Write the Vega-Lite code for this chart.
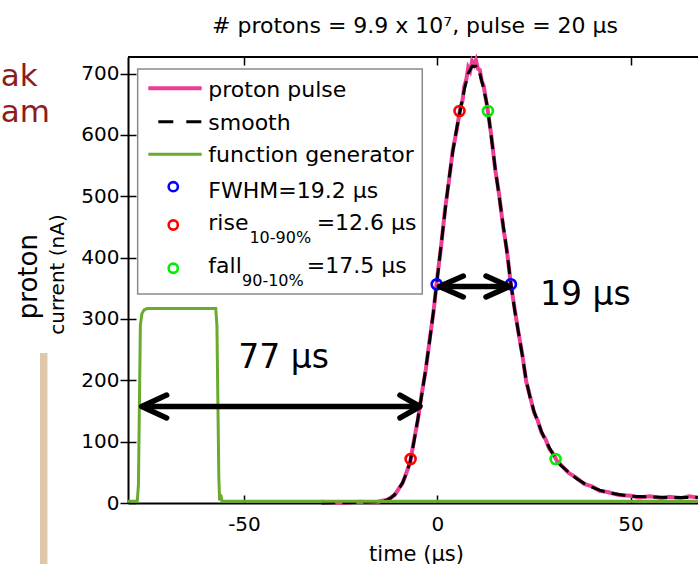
{
  "$schema": "https://vega.github.io/schema/vega-lite/v6.json",
  "width": 570,
  "height": 446,
  "autosize": {"type": "none"},
  "padding": {"left": 128, "top": 57, "right": 0, "bottom": 61},
  "background": "white",
  "config": {"view": {"stroke": null}, "font": "DejaVu Sans", "text": {"font": "DejaVu Sans"}},
  "title": {"text": "# protons = 9.9 x 10⁷, pulse = 20  µs", "font": "DejaVu Sans", "fontSize": 22, "fontWeight": "normal", "color": "black", "frame": "group", "anchor": "middle", "offset": 14, "dx": 2},
  "datasets": {
    "border": [{"x": -80, "x2": 67.44, "y": 727}],
    "tan": [{"x": -101.8, "y": 244.5, "y2": -99.4}],
    "pulse": [
      {"x": -30, "y": 2}, {"x": -25, "y": 0}, {"x": -20, "y": 2}, {"x": -16, "y": 1}, {"x": -14, "y": 4}, {"x": -13, "y": 5},
      {"x": -12, "y": 9}, {"x": -11, "y": 13}, {"x": -10, "y": 23}, {"x": -9, "y": 32}, {"x": -8, "y": 49}, {"x": -7, "y": 67},
      {"x": -6, "y": 103}, {"x": -5, "y": 136}, {"x": -4, "y": 179}, {"x": -3, "y": 216}, {"x": -2, "y": 265}, {"x": -1, "y": 310},
      {"x": 0, "y": 368}, {"x": 1, "y": 419}, {"x": 2, "y": 478}, {"x": 3, "y": 524}, {"x": 4, "y": 575}, {"x": 5, "y": 607},
      {"x": 6, "y": 646}, {"x": 6.5, "y": 655}, {"x": 7, "y": 680}, {"x": 7.5, "y": 690}, {"x": 8, "y": 710}, {"x": 8.5, "y": 704},
      {"x": 9, "y": 720}, {"x": 9.5, "y": 714}, {"x": 10, "y": 722}, {"x": 10.5, "y": 708}, {"x": 11, "y": 706}, {"x": 11.5, "y": 688},
      {"x": 12, "y": 680}, {"x": 13, "y": 642}, {"x": 14, "y": 598}, {"x": 15, "y": 543}, {"x": 16, "y": 503}, {"x": 17, "y": 452},
      {"x": 18, "y": 412}, {"x": 19, "y": 358}, {"x": 20, "y": 317}, {"x": 21, "y": 278}, {"x": 22, "y": 242}, {"x": 23, "y": 198},
      {"x": 24, "y": 174}, {"x": 25, "y": 148}, {"x": 26, "y": 134}, {"x": 27, "y": 114}, {"x": 28, "y": 104}, {"x": 29, "y": 88},
      {"x": 30, "y": 80}, {"x": 31, "y": 68}, {"x": 32, "y": 62}, {"x": 34, "y": 49}, {"x": 36, "y": 41}, {"x": 38, "y": 31},
      {"x": 40, "y": 27}, {"x": 42, "y": 20}, {"x": 44, "y": 18}, {"x": 47, "y": 13}, {"x": 50, "y": 12}, {"x": 52, "y": 9},
      {"x": 55, "y": 11}, {"x": 58, "y": 8}, {"x": 60, "y": 10}, {"x": 63, "y": 8}, {"x": 65, "y": 11}, {"x": 67.4, "y": 9}
    ],
    "smooth": [
      {"x": -30, "y": 0}, {"x": -20, "y": 1}, {"x": -15, "y": 2}, {"x": -13, "y": 5}, {"x": -12, "y": 8}, {"x": -11, "y": 14},
      {"x": -10, "y": 22}, {"x": -9, "y": 33}, {"x": -8, "y": 48}, {"x": -7, "y": 68}, {"x": -6, "y": 101}, {"x": -5, "y": 138},
      {"x": -4, "y": 177}, {"x": -3, "y": 218}, {"x": -2, "y": 263}, {"x": -1, "y": 312}, {"x": 0, "y": 366}, {"x": 1, "y": 421},
      {"x": 2, "y": 475}, {"x": 3, "y": 527}, {"x": 4, "y": 572}, {"x": 5, "y": 610}, {"x": 6, "y": 642}, {"x": 7, "y": 674},
      {"x": 8, "y": 700}, {"x": 9, "y": 712}, {"x": 10, "y": 712}, {"x": 11, "y": 700}, {"x": 12, "y": 675}, {"x": 13, "y": 645},
      {"x": 14, "y": 595}, {"x": 15, "y": 545}, {"x": 16, "y": 500}, {"x": 17, "y": 455}, {"x": 18, "y": 410}, {"x": 19, "y": 360},
      {"x": 20, "y": 315}, {"x": 21, "y": 278}, {"x": 22, "y": 240}, {"x": 23, "y": 200}, {"x": 24, "y": 172}, {"x": 25, "y": 150},
      {"x": 26, "y": 132}, {"x": 27, "y": 116}, {"x": 28, "y": 102}, {"x": 29, "y": 90}, {"x": 30, "y": 79}, {"x": 31, "y": 69},
      {"x": 32, "y": 61}, {"x": 34, "y": 50}, {"x": 36, "y": 40}, {"x": 38, "y": 32}, {"x": 40, "y": 26}, {"x": 42, "y": 21},
      {"x": 44, "y": 17}, {"x": 47, "y": 14}, {"x": 50, "y": 11}, {"x": 55, "y": 10}, {"x": 60, "y": 9}, {"x": 67.4, "y": 9}
    ],
    "fg": [
      {"x": -80, "y": 3}, {"x": -77.6, "y": 3}, {"x": -77.3, "y": 30}, {"x": -76.8, "y": 290}, {"x": -76.4, "y": 309},
      {"x": -75.8, "y": 315}, {"x": -75, "y": 317}, {"x": -57.3, "y": 317}, {"x": -57, "y": 290}, {"x": -56.5, "y": 40},
      {"x": -56.3, "y": 4}, {"x": -56.0, "y": 14}, {"x": -55.7, "y": 3}, {"x": -30, "y": 3}, {"x": 67.44, "y": 3}
    ],
    "marks": [
      {"x": -0.15, "y": 356.5, "k": "FWHM"}, {"x": 19.05, "y": 356.5, "k": "FWHM"},
      {"x": -6.9, "y": 71.7, "k": "rise"}, {"x": 5.75, "y": 639, "k": "rise"},
      {"x": 13.1, "y": 639, "k": "fall"}, {"x": 30.6, "y": 71.7, "k": "fall"}
    ],
    "arrows": [
      {"x": -76.0, "y": 157.3, "g": "a", "o": 1}, {"x": -4.9, "y": 157.3, "g": "a", "o": 2},
      {"x": -70.0, "y": 176, "g": "b", "o": 1}, {"x": -76.46, "y": 157.3, "g": "b", "o": 2}, {"x": -70.0, "y": 138.6, "g": "b", "o": 3},
      {"x": -9.65, "y": 176, "g": "c", "o": 1}, {"x": -4.47, "y": 157.3, "g": "c", "o": 2}, {"x": -9.65, "y": 138.6, "g": "c", "o": 3},
      {"x": 0.9, "y": 352.9, "g": "d", "o": 1}, {"x": 18.2, "y": 352.9, "g": "d", "o": 2},
      {"x": 6.73, "y": 370, "g": "e", "o": 1}, {"x": 0.52, "y": 352.9, "g": "e", "o": 2}, {"x": 6.73, "y": 335.8, "g": "e", "o": 3},
      {"x": 12.6, "y": 370, "g": "f", "o": 1}, {"x": 18.62, "y": 352.9, "g": "f", "o": 2}, {"x": 12.6, "y": 335.8, "g": "f", "o": 3}
    ],
    "ann": [{"x": -51.5, "y": 219.6, "t": "77 µs"}, {"x": 26.56, "y": 322.7, "t": "19 µs"}],
    "legbox": [{"x": -77.5, "x2": -3.88, "y": 707.4, "y2": 340.7}],
    "legPulse": [{"x": -74.75, "x2": -60.94, "y": 676.0}],
    "legSmooth": [{"x": -72.16, "x2": -60.94, "y": 621.5}],
    "legFg": [{"x": -74.75, "x2": -60.94, "y": 568.4}],
    "legMarks": [{"x": -68.29, "y": 515.6, "k": "FWHM"}, {"x": -68.29, "y": 453.1, "k": "rise"}, {"x": -68.29, "y": 382.6, "k": "fall"}],
    "legText": [
      {"x": -59.23, "y": 662.3, "t": "proton pulse"},
      {"x": -59.23, "y": 608.0, "t": "smooth"},
      {"x": -59.23, "y": 556.3, "t": "function generator"},
      {"x": -59.23, "y": 496.7, "t": "FWHM=19.2 µs"},
      {"x": -59.23, "y": 445.0, "t": "rise"},
      {"x": -31.2, "y": 445.0, "t": "=12.6 µs"},
      {"x": -59.23, "y": 374.4, "t": "fall"},
      {"x": -33.77, "y": 374.4, "t": "=17.5 µs"}
    ],
    "legSub": [{"x": -48.6, "y": 424.3, "t": "10-90%"}, {"x": -50.5, "y": 353.7, "t": "90-10%"}],
    "slide": [{"x": -112.9, "y": 679.7, "t": "ak"}, {"x": -112.9, "y": 621.0, "t": "am"}],
    "proton": [{"x": -103.5, "y": 368.9, "t": "proton"}]
  },
  "encoding": {
    "x": {
      "field": "x", "type": "quantitative",
      "scale": {"domain": [-80, 67.44], "nice": false, "zero": false},
      "axis": {
        "title": "time (µs)", "values": [-50, 0, 50], "labelExpr": "datum.value",
        "tickSize": 0, "labelPadding": 11, "labelFont": "DejaVu Sans", "labelFontSize": 20, "labelColor": "black",
        "labelFlush": false, "labelOverlap": false,
        "domainColor": "black", "domainWidth": 2,
        "grid": true, "gridColor": "black", "gridWidth": 1.5, "gridOpacity": 1, "gridDash": [8, 430, 8, 1000],
        "titleFont": "DejaVu Sans", "titleFontSize": 21, "titleFontWeight": "normal", "titleColor": "black",
        "titleX": 288, "titleY": 57, "titleBaseline": "alphabetic"
      }
    },
    "y": {
      "field": "y", "type": "quantitative",
      "scale": {"domain": [0, 727], "nice": false, "zero": false},
      "axis": {
        "title": "current (nA)", "values": [0, 100, 200, 300, 400, 500, 600, 700],
        "tickSize": 8, "tickColor": "black", "tickWidth": 1.5, "labelPadding": 1,
        "labelFont": "DejaVu Sans", "labelFontSize": 20, "labelColor": "black", "labelFlush": false, "labelOverlap": false,
        "domainColor": "black", "domainWidth": 2,
        "grid": true, "gridColor": "black", "gridWidth": 1.5, "gridOpacity": 1, "gridDash": [8, 1000],
        "titleFont": "DejaVu Sans", "titleFontSize": 20, "titleFontWeight": "normal", "titleColor": "black",
        "titleX": -65, "titleY": 217, "titleBaseline": "alphabetic", "titleAngle": 270
      }
    }
  },
  "layer": [
    {"data": {"name": "border"}, "mark": {"type": "rule", "color": "black", "strokeWidth": 2}, "encoding": {"x2": {"field": "x2"}}},
    {"data": {"name": "tan"}, "mark": {"type": "rule", "color": "#dfc8aa", "strokeWidth": 7.5}, "encoding": {"y2": {"field": "y2"}}},
    {"data": {"name": "pulse"}, "mark": {"type": "line", "color": "#ee3d96", "strokeWidth": 4}, "encoding": {}},
    {"data": {"name": "smooth"}, "mark": {"type": "line", "color": "black", "strokeWidth": 3, "strokeDash": [14, 7]}, "encoding": {}},
    {"data": {"name": "fg"}, "mark": {"type": "line", "color": "#6aab2e", "strokeWidth": 3}, "encoding": {}},
    {"data": {"name": "marks"}, "mark": {"type": "point", "filled": false, "shape": "circle", "size": 100, "strokeWidth": 2.6, "opacity": 1},
     "encoding": {"color": {"field": "k", "type": "nominal", "scale": {"domain": ["FWHM", "rise", "fall"], "range": ["#0000ff", "#ff0000", "#00ee00"]}, "legend": null}}},
    {"data": {"name": "arrows"}, "mark": {"type": "line", "color": "black", "strokeWidth": 5.5, "strokeJoin": "round", "strokeCap": "round"},
     "encoding": {"detail": {"field": "g", "type": "nominal"}, "order": {"field": "o", "type": "quantitative"}}},
    {"data": {"name": "ann"}, "mark": {"type": "text", "font": "DejaVu Sans", "fontSize": 33, "align": "left", "baseline": "alphabetic", "color": "black"},
     "encoding": {"text": {"field": "t"}}},
    {"data": {"name": "legbox"}, "mark": {"type": "rect", "fill": "white", "stroke": "#8a8a8a", "strokeWidth": 1.5},
     "encoding": {"x2": {"field": "x2"}, "y2": {"field": "y2"}}},
    {"data": {"name": "legPulse"}, "mark": {"type": "rule", "color": "#ee3d96", "strokeWidth": 4}, "encoding": {"x2": {"field": "x2"}}},
    {"data": {"name": "legSmooth"}, "mark": {"type": "rule", "color": "black", "strokeWidth": 3, "strokeDash": [15, 13]}, "encoding": {"x2": {"field": "x2"}}},
    {"data": {"name": "legFg"}, "mark": {"type": "rule", "color": "#6aab2e", "strokeWidth": 3}, "encoding": {"x2": {"field": "x2"}}},
    {"data": {"name": "legMarks"}, "mark": {"type": "point", "filled": false, "shape": "circle", "size": 85, "strokeWidth": 2.6, "opacity": 1},
     "encoding": {"color": {"field": "k", "type": "nominal", "scale": {"domain": ["FWHM", "rise", "fall"], "range": ["#0000ff", "#ff0000", "#00ee00"]}, "legend": null}}},
    {"data": {"name": "legText"}, "mark": {"type": "text", "font": "DejaVu Sans", "fontSize": 22, "align": "left", "baseline": "alphabetic", "color": "black"},
     "encoding": {"text": {"field": "t"}}},
    {"data": {"name": "legSub"}, "mark": {"type": "text", "font": "DejaVu Sans", "fontSize": 16, "align": "left", "baseline": "alphabetic", "color": "black"},
     "encoding": {"text": {"field": "t"}}},
    {"data": {"name": "slide"}, "mark": {"type": "text", "font": "DejaVu Sans", "fontSize": 31, "align": "left", "baseline": "alphabetic", "color": "#8b1d1d"},
     "encoding": {"text": {"field": "t"}}},
    {"data": {"name": "proton"}, "mark": {"type": "text", "font": "DejaVu Sans", "fontSize": 26, "align": "center", "baseline": "alphabetic", "angle": 270, "color": "black"},
     "encoding": {"text": {"field": "t"}}}
  ]
}
